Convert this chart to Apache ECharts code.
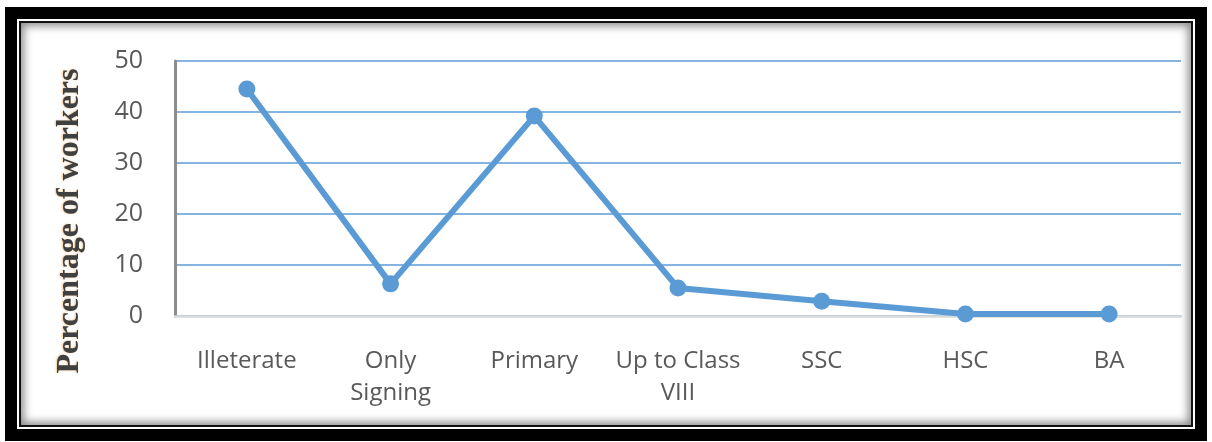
<!DOCTYPE html>
<html><head><meta charset="utf-8">
<script src="https://cdn.jsdelivr.net/npm/echarts@6/dist/echarts.min.js"></script>
<style>
html,body{margin:0;padding:0;background:#fff;width:1212px;height:442px;overflow:hidden;}
#outer{position:absolute;left:5px;top:7px;width:1178px;height:410px;border:12px solid #000;background:#fff;}
#inner{position:absolute;left:2px;top:2px;right:2px;bottom:2px;border:2px solid #111;box-shadow:inset 0 0 9px 3px rgba(0,0,0,0.45);background:#fff;}
#chart{position:absolute;left:0;top:0;width:1212px;height:442px;}
</style></head>
<body>
<div id="outer"><div id="inner"></div></div>
<div id="chart"></div>
<script>
const categories = ['Illeterate', 'Only\nSigning', 'Primary', 'Up to Class\nVIII', 'SSC', 'HSC', 'BA'];
const values = [44.5, 6.3, 39.2, 5.5, 2.9, 0.4, 0.4];
const yTicks = { min: 0, max: 50, interval: 10 };
const yName = 'Percentage of workers';

const chart = echarts.init(document.getElementById('chart'), null, { renderer: 'canvas' });
chart.setOption({
  backgroundColor: 'transparent',
  animation: false,
  grid: { left: 175, right: 31, top: 61, bottom: 126 },
  xAxis: {
    type: 'category',
    data: categories,
    boundaryGap: true,
    axisLine: { show: true, lineStyle: { color: '#d9d9d9', width: 2.5 } },
    axisTick: { show: false },
    axisLabel: { color: '#595959', fontFamily: 'Open Sans', fontSize: 24, margin: 29, lineHeight: 32, interval: 0 }
  },
  yAxis: {
    type: 'value',
    min: yTicks.min, max: yTicks.max, interval: yTicks.interval,
    axisLine: { show: true, lineStyle: { color: '#8c8c8c', width: 3 } },
    axisTick: { show: false },
    splitLine: { show: true, lineStyle: { color: '#5b9bd5', width: 1.5 } },
    axisLabel: { color: '#595959', fontFamily: 'Open Sans', fontSize: 25, margin: 32 }
  },
  graphic: [{
    type: 'text',
    x: 70, y: 221,
    rotation: Math.PI / 2,
    style: {
      text: yName,
      x: 0, y: 0,
      align: 'center', verticalAlign: 'middle',
      font: 'bold 32px "Liberation Serif", serif',
      fill: '#404040',
      textShadowColor: 'rgba(230,150,60,0.55)',
      textShadowBlur: 2,
      textShadowOffsetX: -1
    }
  }],
  series: [{
    type: 'line',
    data: values,
    symbol: 'circle',
    symbolSize: 17,
    lineStyle: { color: '#5b9bd5', width: 6 },
    itemStyle: { color: '#5b9bd5' }
  }]
});
</script>
</body></html>
